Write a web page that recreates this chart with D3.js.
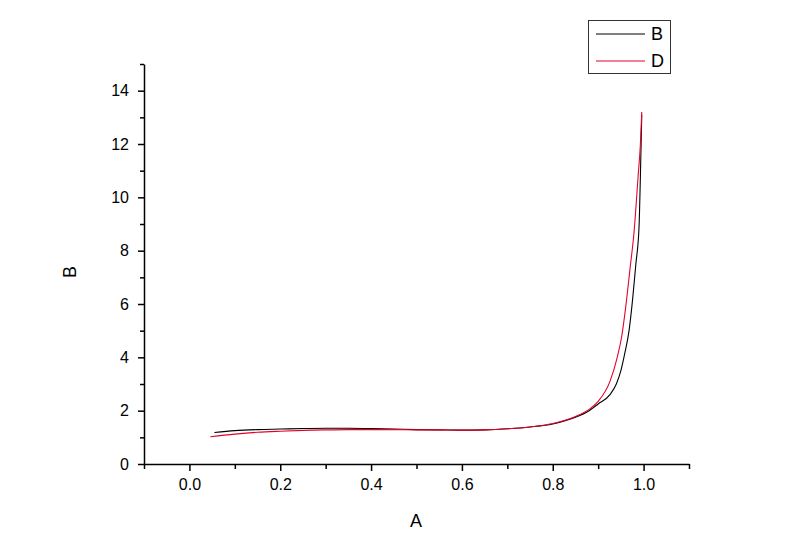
<!DOCTYPE html>
<html>
<head>
<meta charset="utf-8">
<script src="https://cdn.jsdelivr.net/npm/d3@7"></script>
<style>
  body { margin: 0; background: #fff; }
  svg { display: block; font-family: "Liberation Sans", Arial, sans-serif; }
</style>
</head>
<body>
<div id="chart"></div>
<script>
// series B (black)
const bX = [0.055, 0.1, 0.15, 0.2, 0.25, 0.3, 0.35, 0.4, 0.45, 0.5, 0.55, 0.6, 0.65, 0.7, 0.75, 0.8, 0.85, 0.88, 0.9, 0.926, 0.94, 0.95, 0.958, 0.968, 0.976, 0.983, 0.99, 0.993, 0.996];
const bY = [1.18, 1.25, 1.29, 1.31, 1.33, 1.34, 1.34, 1.33, 1.31, 1.29, 1.28, 1.27, 1.28, 1.32, 1.39, 1.5, 1.75, 2.0, 2.25, 2.6, 3.0, 3.5, 4.1, 5.0, 6.2, 7.5, 8.9, 10.8, 13.1];
// series D (red)
const dX = [0.046, 0.1, 0.15, 0.2, 0.25, 0.3, 0.35, 0.4, 0.45, 0.5, 0.55, 0.6, 0.65, 0.7, 0.75, 0.8, 0.85, 0.88, 0.9, 0.926, 0.942, 0.952, 0.96, 0.97, 0.979, 0.988, 0.993, 0.996];
const dY = [1.02, 1.12, 1.19, 1.23, 1.26, 1.28, 1.29, 1.29, 1.29, 1.28, 1.28, 1.27, 1.28, 1.32, 1.39, 1.52, 1.78, 2.05, 2.35, 3.1, 4.0, 4.8, 5.8, 7.3, 8.7, 10.8, 12.0, 13.2];

const xTicks = [0.0, 0.2, 0.4, 0.6, 0.8, 1.0];
const xMinor = [-0.1, 0.1, 0.3, 0.5, 0.7, 0.9, 1.1];
const yTicks = [0, 2, 4, 6, 8, 10, 12, 14];
const yMinor = [1, 3, 5, 7, 9, 11, 13, 15];

const legendNames = ["B", "D"];
const colors = ["#000000", "#e8002a"];

const W = 800, H = 558;
const svg = d3.select("#chart").append("svg").attr("width", W).attr("height", H);

const x = d3.scaleLinear().domain([-0.1, 1.1]).range([144, 689]);
const y = d3.scaleLinear().domain([0, 15]).range([464, 64]);

// minor ticks
svg.append("g").attr("transform", `translate(0,${y(0)})`)
  .call(d3.axisBottom(x).tickValues(xMinor).tickSize(5).tickFormat(""))
  .call(g => g.select(".domain").remove());
svg.append("g").attr("transform", `translate(${x(-0.1)},0)`)
  .call(d3.axisLeft(y).tickValues(yMinor).tickSize(4).tickFormat(""))
  .call(g => g.select(".domain").remove());

// major axes
svg.append("g").attr("transform", `translate(0,${y(0)})`)
  .call(d3.axisBottom(x).tickValues(xTicks).tickSize(7).tickSizeOuter(0).tickPadding(8).tickFormat(d3.format(".1f")));
svg.append("g").attr("transform", `translate(${x(-0.1)},0)`)
  .call(d3.axisLeft(y).tickValues(yTicks).tickSize(6).tickSizeOuter(0).tickPadding(9));

svg.selectAll(".tick line").attr("stroke", "#000").attr("stroke-width", 1.5);
svg.selectAll(".domain").attr("stroke", "#000").attr("stroke-width", 1.5);
svg.selectAll(".tick text").attr("font-size", 16).attr("fill", "#000")
  .attr("font-family", "'Liberation Sans', Arial, sans-serif");

// axis titles
svg.append("text").attr("x", 416).attr("y", 527).attr("text-anchor", "middle")
  .attr("font-size", 18).text("A");
svg.append("text").attr("transform", "translate(76,272) rotate(-90)").attr("text-anchor", "middle")
  .attr("font-size", 18).text("B");

// lines
const line = d3.line().x(d => x(d[0])).y(d => y(d[1])).curve(d3.curveMonotoneX);
const series = [d3.zip(bX, bY), d3.zip(dX, dY)];
series.forEach((s, i) => {
  svg.append("path").datum(s).attr("d", line)
    .attr("fill", "none").attr("stroke", colors[i]).attr("stroke-width", 1.1);
});

// legend
const lg = svg.append("g");
lg.append("rect").attr("x", 588.5).attr("y", 20.5).attr("width", 82).attr("height", 53)
  .attr("fill", "#fff").attr("stroke", "#333").attr("stroke-width", 1);
legendNames.forEach((n, i) => {
  const ly = 34 + i * 27;
  lg.append("line").attr("x1", 596).attr("x2", 645).attr("y1", ly).attr("y2", ly)
    .attr("stroke", colors[i]).attr("stroke-width", 1.1);
  lg.append("text").attr("x", 651).attr("y", ly + 6).attr("font-size", 18).text(n);
});
</script>
</body>
</html>
